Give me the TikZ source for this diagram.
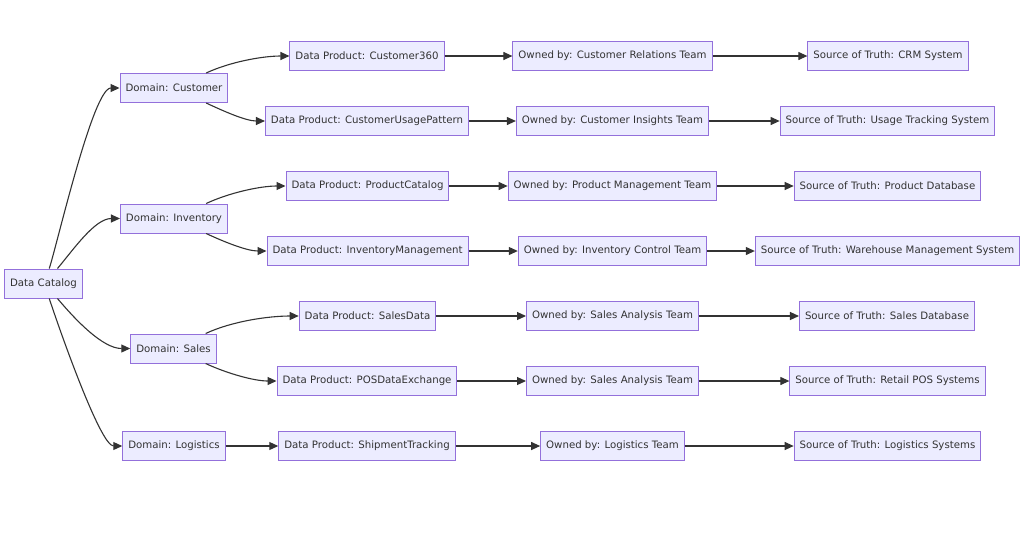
\documentclass[tikz,border=0pt]{standalone}
\usepackage{fontspec}
\setmainfont{DejaVu Sans}
\usetikzlibrary{arrows.meta}
\definecolor{boxfill}{HTML}{ECECFF}
\definecolor{boxline}{HTML}{9370DB}
\definecolor{linkcol}{HTML}{333333}

\begin{document}
\begin{tikzpicture}[x=1pt,y=-1pt,
    box/.style={draw=boxline,fill=boxfill,line width=1pt,inner xsep=5.5pt,
                minimum height=29pt,text=linkcol,font=\fontsize{10.2pt}{12pt}\selectfont},
    stream/.style={-{Triangle[length=9pt,width=8pt]},line width=1.1pt,draw=linkcol}]
    \useasboundingbox (0,0) rectangle (1033,542);
    %catalog
    \node [box] (cat) at (43.5,283.5){Data Catalog};
    %domains
    \node [box] (dcust) at (174,88){Domain: Customer};
    \node [box] (dinv) at (174,218.5){Domain: Inventory};
    \node [box] (dsales) at (173.5,348.5){Domain: Sales};
    \node [box] (dlog) at (174,446){Domain: Logistics};
    %data products
    \node [box] (pcust) at (367,56){Data Product: Customer360};
    \node [box] (pusage) at (367,121){Data Product: CustomerUsagePattern};
    \node [box] (pcat) at (367.5,186){Data Product: ProductCatalog};
    \node [box] (pinv) at (367.5,251){Data Product: InventoryManagement};
    \node [box] (psales) at (367.5,316){Data Product: SalesData};
    \node [box] (ppos) at (367,381){Data Product: POSDataExchange};
    \node [box] (pship) at (367,446){Data Product: ShipmentTracking};
    %owners
    \node [box] (ocust) at (612.5,56){Owned by: Customer Relations Team};
    \node [box] (ousage) at (612.5,121){Owned by: Customer Insights Team};
    \node [box] (ocat) at (612.5,186){Owned by: Product Management Team};
    \node [box] (oinv) at (612.5,251){Owned by: Inventory Control Team};
    \node [box] (osales) at (612.5,316){Owned by: Sales Analysis Team};
    \node [box] (opos) at (612.5,381){Owned by: Sales Analysis Team};
    \node [box] (oship) at (612.5,446){Owned by: Logistics Team};
    %sources of truth
    \node [box] (scust) at (888,56){Source of Truth: CRM System};
    \node [box] (susage) at (887.5,121){Source of Truth: Usage Tracking System};
    \node [box] (scat) at (887.5,186){Source of Truth: Product Database};
    \node [box] (sinv) at (887.5,251){Source of Truth: Warehouse Management System};
    \node [box] (ssales) at (887,316){Source of Truth: Sales Database};
    \node [box] (spos) at (887.5,381){Source of Truth: Retail POS Systems};
    \node [box] (sship) at (887.5,446){Source of Truth: Logistics Systems};
    %catalog to domains
    \draw [stream] (cat.69) to[out=72,in=180,looseness=0.35] (dcust.west);
    \draw [stream] (cat.47) to[out=50,in=180,looseness=0.8] (dinv.west);
    \draw [stream] (cat.-47) to[out=-50,in=180,looseness=0.8] (dsales.west);
    \draw [stream] (cat.-69) to[out=-72,in=180,looseness=0.35] (dlog.west);
    %domains to data products
    \draw [stream] (dcust.25) to[out=25,in=180,looseness=0.8] (pcust.west);
    \draw [stream] (dcust.-25) to[out=-25,in=180,looseness=0.8] (pusage.west);
    \draw [stream] (dinv.25) to[out=25,in=180,looseness=0.8] (pcat.west);
    \draw [stream] (dinv.-25) to[out=-25,in=180,looseness=0.8] (pinv.west);
    \draw [stream] (dsales.25) to[out=25,in=180,looseness=0.8] (psales.west);
    \draw [stream] (dsales.-25) to[out=-25,in=180,looseness=0.8] (ppos.west);
    \draw [stream] (dlog) -- (pship);
    %data products to owners
    \draw [stream] (pcust) -- (ocust);
    \draw [stream] (pusage) -- (ousage);
    \draw [stream] (pcat) -- (ocat);
    \draw [stream] (pinv) -- (oinv);
    \draw [stream] (psales) -- (osales);
    \draw [stream] (ppos) -- (opos);
    \draw [stream] (pship) -- (oship);
    %owners to sources
    \draw [stream] (ocust) -- (scust);
    \draw [stream] (ousage) -- (susage);
    \draw [stream] (ocat) -- (scat);
    \draw [stream] (oinv) -- (sinv);
    \draw [stream] (osales) -- (ssales);
    \draw [stream] (opos) -- (spos);
    \draw [stream] (oship) -- (sship);
\end{tikzpicture}
\end{document}
